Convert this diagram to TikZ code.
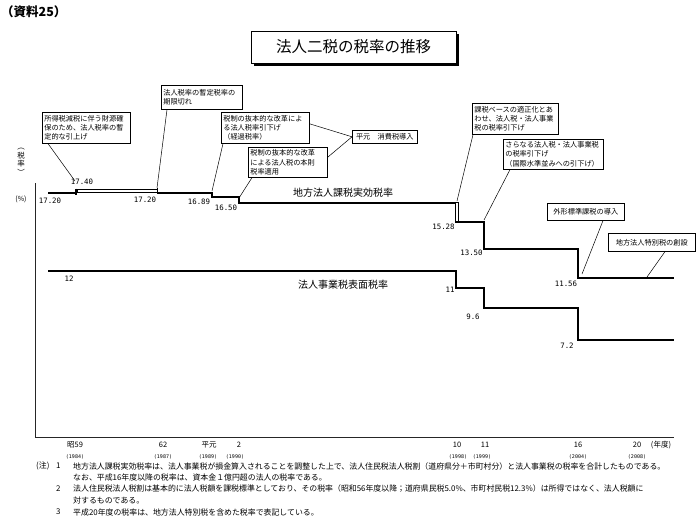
\documentclass[tikz,border=0pt]{standalone}
\usepackage{fontspec}
\setmainfont{Noto Sans CJK JP}
\newfontfamily\numfont{DejaVu Sans Mono}
\begin{document}
\begin{tikzpicture}[x=1pt,y=-1pt,
  rateline/.style={line width=1.9pt, line cap=butt, line join=miter},
  thinline/.style={line width=0.6pt},
  axisline/.style={line width=1pt, draw=black!85},
  leader/.style={line width=0.5pt},
  callout/.style={draw=black, line width=0.6pt, fill=white, inner xsep=2pt, inner ysep=1pt,
    anchor=north west, align=left, font=\fontsize{7.2}{9.4}\selectfont},
  numlab/.style={font=\numfont\fontsize{7.4}{8}\selectfont, inner sep=0pt},
  yearlab/.style={font=\numfont\fontsize{5}{6}\selectfont, inner sep=0pt},
  eralab/.style={font=\fontsize{7.5}{8}\selectfont, inner sep=0pt},
  serieslab/.style={font=\fontsize{10}{11}\selectfont, inner sep=0pt},
  notetext/.style={font=\fontsize{7.9}{9}\selectfont, anchor=west, inner sep=0pt}
]
\useasboundingbox (0,0) rectangle (700,520);

% header
\node[font=\fontsize{12.5}{13}\selectfont\bfseries, anchor=west, inner sep=0pt] (src) at (1,12) {（資料25）};
\fill[black] (253.5,33.5) rectangle (458.5,65.5);
\node[draw, fill=white, line width=0.8pt, minimum width=205pt, minimum height=32pt, inner sep=0pt,
  font=\fontsize{15.5}{16}\selectfont] (title) at (353.5,47) {法人二税の税率の推移};

% axes
\coordinate (ytop) at (35,183);
\coordinate (orig) at (35,437);
\coordinate (xend) at (674,437);
\draw[axisline] (ytop) -- (orig) -- (xend);
\node[font=\fontsize{7.5}{8.5}\selectfont, align=center, inner sep=0pt] (ylab) at (21,162) {︵\\税\\率\\︶};
\node[font=\fontsize{7}{8}\selectfont, inner sep=0pt] (pct) at (21,199) {(\%)};

% effective rate steps
\draw[rateline] (48,193) -- (76,193);
\draw[rateline] (76,188.5) -- (76,194.5);
\draw[thinline, fill=white] (77,189) rectangle (157,192.5);
\draw[thinline] (157,188) -- (157,193.5);
\draw[rateline] (157,193) -- (212,193) -- (212,197) -- (239,197) -- (239,203) -- (456,203);
\draw[thinline, fill=white] (455,202) rectangle (457.8,222);
\draw[rateline] (455,222) -- (484,222) -- (484,249) -- (578,249) -- (578,278) -- (674,278);

% surface rate steps
\draw[rateline] (48,271) -- (456,271) -- (456,288) -- (484,288) -- (484,308) -- (578,308) -- (578,340) -- (674,340);

% value labels
\node[numlab] (v1) at (50,201) {17.20};
\node[numlab] (v2) at (82,182) {17.40};
\node[numlab] (v3) at (145,200) {17.20};
\node[numlab] (v4) at (199,202) {16.89};
\node[numlab] (v5) at (226,208) {16.50};
\node[numlab] (v6) at (443.5,227) {15.28};
\node[numlab] (v7) at (471.5,253) {13.50};
\node[numlab] (v8) at (566,284) {11.56};
\node[numlab] (w1) at (69,279) {12};
\node[numlab] (w2) at (450,290) {11};
\node[numlab] (w3) at (473,317) {9.6};
\node[numlab] (w4) at (567,346) {7.2};

\node[serieslab] (s1) at (343,193) {地方法人課税実効税率};
\node[serieslab] (s2) at (343,285) {法人事業税表面税率};

% callouts
\node[callout, text width=84pt, minimum height=31pt] (c1) at (42,112) {所得税減税に伴う財源確\\保のため、法人税率の暫\\定的な引上げ};
\node[callout, text width=77pt, minimum height=24pt] (c2) at (161,85) {法人税率の暫定税率の\\期限切れ};
\node[callout, text width=84pt, minimum height=31pt] (c3) at (221,112) {税制の抜本的な改革によ\\る法人税率引下げ\\（経過税率）};
\node[callout, text width=75pt, minimum height=30pt] (c4) at (248,147) {税制の抜本的な改革\\による法人税の本則\\税率適用};
\node[callout, text width=61pt, minimum height=13pt, align=center] (c5) at (352,130) {平元　消費税導入};
\node[callout, text width=82pt, minimum height=31pt] (c6) at (472,103) {課税ベースの適正化とあ\\わせ、法人税・法人事業\\税の税率引下げ};
\node[callout, text width=96pt, minimum height=30pt] (c7) at (503,139) {さらなる法人税・法人事業税\\の税率引下げ\\（国際水準並みへの引下げ）};
\node[callout, text width=73pt, minimum height=17pt, align=center] (c8) at (547,203) {外形標準課税の導入};
\node[callout, text width=83pt, minimum height=18pt, align=center] (c9) at (608,233) {地方法人特別税の創設};

% leader end points
\coordinate (e1) at (75,181);
\coordinate (e2) at (157,188);
\coordinate (e3) at (212,191);
\coordinate (e4) at (239,198);
\coordinate (e6) at (457,201);
\coordinate (e7) at (484,220);
\coordinate (e8) at (582,274);
\coordinate (e9) at (647,277);

\draw[leader] ([xshift=6pt]c1.south west) -- (e1);
\draw[leader] ([xshift=6pt]c2.south west) -- (e2);
\draw[leader] ([xshift=2pt]c3.south west) -- (e3);
\draw[leader] ([xshift=4pt]c4.south west) -- (e4);
\draw[leader] ([yshift=4pt]c3.east) -- (c5.west);
\draw[leader] ([yshift=5pt]c4.east) -- (c5.west);
\draw[leader] ([xshift=1pt]c6.south west) -- (e6);
\draw[leader] ([xshift=7pt]c7.south west) -- (e7);
\draw[leader] ([xshift=56pt]c8.south west) -- (e8);
\draw[leader] ([xshift=57pt]c9.south west) -- (e9);

% x axis labels
\node[eralab] (a1) at (75,445) {昭59};
\node[eralab] (a2) at (163,445) {62};
\node[eralab] (a3) at (209,445) {平元};
\node[eralab] (a4) at (239,445) {2};
\node[eralab] (a5) at (457,445) {10};
\node[eralab] (a6) at (485,445) {11};
\node[eralab] (a7) at (578,445) {16};
\node[eralab] (a8) at (637,445) {20};
\node[eralab] (a9) at (661,445) {(年度)};
\node[yearlab] (b1) at (75,457) {(1984)};
\node[yearlab] (b2) at (163,457) {(1987)};
\node[yearlab] (b3) at (208,457) {(1989)};
\node[yearlab] (b4) at (235,457) {(1990)};
\node[yearlab] (b5) at (458,457) {(1998)};
\node[yearlab] (b6) at (482,457) {(1999)};
\node[yearlab] (b7) at (578,457) {(2004)};
\node[yearlab] (b8) at (637,457) {(2008)};

% notes
\node[notetext] (n0) at (36,466) {(注)};
\node[notetext] (n1a) at (56,466) {1};
\node[notetext] (n1t) at (73,466) {地方法人課税実効税率は、法人事業税が損金算入されることを調整した上で、法人住民税法人税割（道府県分＋市町村分）と法人事業税の税率を合計したものである。};
\node[notetext] (n1b) at (73,477) {なお、平成16年度以降の税率は、資本金１億円超の法人の税率である。};
\node[notetext] (n2a) at (56,489) {2};
\node[notetext] (n2t) at (73,489) {法人住民税法人税割は基本的に法人税額を課税標準としており、その税率（昭和56年度以降；道府県民税5.0\%、市町村民税12.3\%）は所得ではなく、法人税額に};
\node[notetext] (n2b) at (73,500) {対するものである。};
\node[notetext] (n3a) at (56,512) {3};
\node[notetext] (n3t) at (73,512) {平成20年度の税率は、地方法人特別税を含めた税率で表記している。};
\end{tikzpicture}
\end{document}
